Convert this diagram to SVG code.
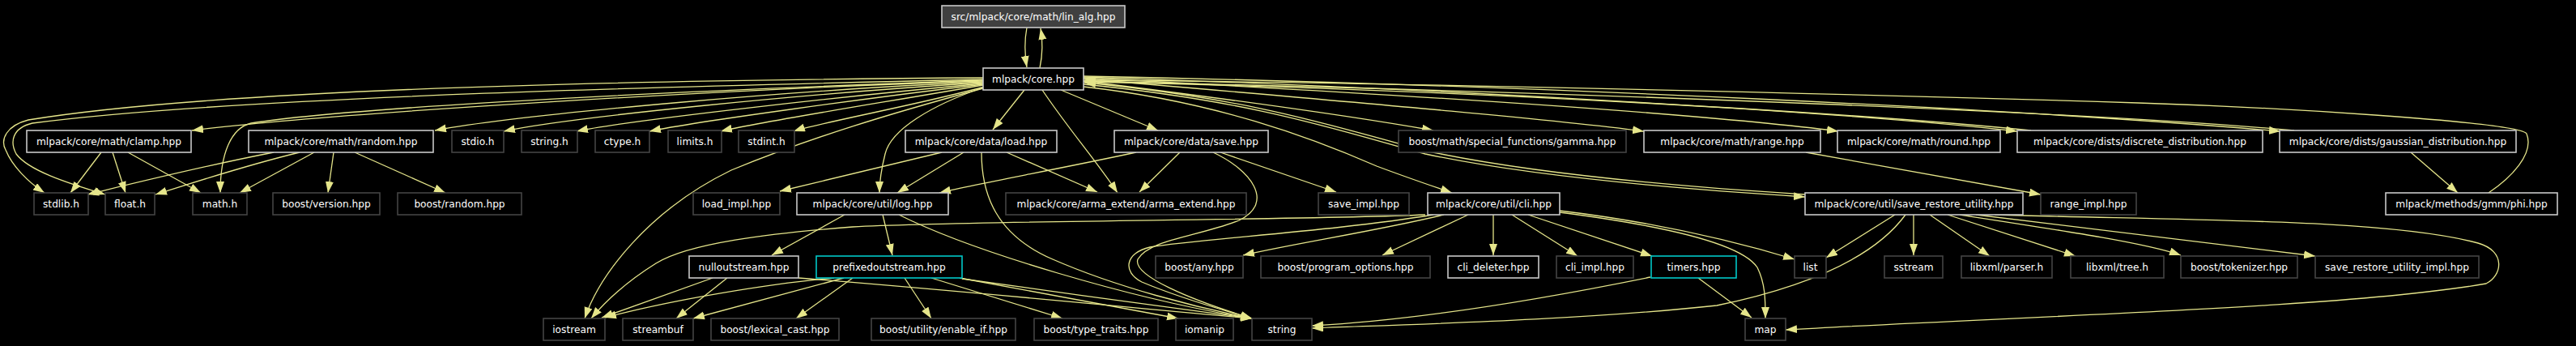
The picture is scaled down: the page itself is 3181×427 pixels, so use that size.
<svg xmlns="http://www.w3.org/2000/svg" width="3181" height="427" viewBox="0 0 3181 427">
<style>
rect{fill:#000;stroke-width:1.6}
.doc{stroke:#c8c8c8}
.ext{stroke:#444}
.cy{stroke:#00c8c8}
.root{fill:#404040;stroke:#c8c8c8}
text{fill:#fff;font-family:"DejaVu Sans",sans-serif;font-size:12.2px;text-anchor:middle}
#edges path{fill:none;stroke:#e5e58a;stroke-width:1.3;marker-end:url(#a)}
</style>
<defs>
<marker id="a" markerUnits="userSpaceOnUse" markerWidth="15" markerHeight="11" refX="14" refY="5" orient="auto"><path d="M0,0L14,5L0,10z" fill="#e5e58a"/></marker>
</defs>
<rect x="0" y="0" width="3181" height="427" style="fill:#000;stroke:none"/>
<g id="edges">
<path d="M1268,34 C1265,50 1265,65 1268,83"/>
<path d="M1284,84 C1288,65 1288,52 1285,35"/>
<path d="M1214,100 C900,110 400,140 237,161"/>
<path d="M1214,101 C1000,110 650,140 537,161"/>
<path d="M1214,102 C1000,115 700,145 622,162"/>
<path d="M1214,103 C1050,118 780,148 712,162"/>
<path d="M1214,104 C1080,120 860,150 802,162"/>
<path d="M1214,105 C1100,125 940,150 890,162"/>
<path d="M1216,107 C1130,130 1010,152 980,162"/>
<path d="M1214,96 C900,98 300,105 35,148 C8,155 0,172 7,185 C15,205 35,225 55,238"/>
<path d="M1214,98 C900,105 300,118 40,152 C15,158 12,175 20,190 C35,210 80,225 130,240"/>
<path d="M1214,99 C900,110 450,130 310,152 C285,158 272,190 272,238"/>
<path d="M1265,111 L1226,160"/>
<path d="M1310,111 L1430,161"/>
<path d="M1338,100 C1500,120 1650,140 1770,161"/>
<path d="M1338,97 C1600,120 1900,145 2030,162"/>
<path d="M1338,96 C1700,115 2100,140 2270,162"/>
<path d="M1338,95 C1800,110 2300,140 2491,162"/>
<path d="M1338,94 C1900,105 2500,135 2816,162"/>
<path d="M3073,238 C3100,220 3130,190 3120,165 C3110,150 2800,132 2640,127 C2200,113 1600,100 1339,99"/>
<path d="M2833,161 C2600,140 2000,115 1339,100"/>
<path d="M2508,161 C2300,140 1800,110 1339,101"/>
<path d="M1338,107 C1500,125 1620,170 1700,205 C1740,220 1770,230 1793,238"/>
<path d="M1338,104 C1550,125 1650,160 1760,190 C1900,220 2100,235 2229,243"/>
<path d="M2229,240 C2100,232 1900,216 1760,186 C1650,157 1550,122 1339,102"/>
<path d="M1214,108 C1150,130 1100,160 1093,190 C1088,210 1086,225 1086,238"/>
<path d="M1214,109 C1100,140 1000,170 903,210 C800,260 740,340 722,393"/>
<path d="M1287,111 C1320,160 1355,200 1380,238"/>
<path d="M125,188 L87,238"/>
<path d="M139,188 L155,238"/>
<path d="M158,188 L248,238"/>
<path d="M338,188 C250,205 170,225 108,240"/>
<path d="M370,188 C300,205 240,225 192,240"/>
<path d="M388,188 L296,238"/>
<path d="M412,188 L405,238"/>
<path d="M438,188 L550,238"/>
<path d="M1163,188 L963,236"/>
<path d="M1190,188 L1108,238"/>
<path d="M1212,188 C1212,240 1230,290 1300,320 C1380,355 1480,380 1546,393"/>
<path d="M1243,188 L1355,237"/>
<path d="M1403,188 C1300,210 1200,228 1160,238"/>
<path d="M1457,188 L1407,237"/>
<path d="M1498,188 C1545,210 1575,250 1530,272 C1480,292 1420,295 1405,320 C1398,340 1470,370 1546,393"/>
<path d="M1507,188 L1650,237"/>
<path d="M1043,265 L953,315"/>
<path d="M1090,265 L1102,315"/>
<path d="M1110,265 C1200,310 1400,370 1546,393"/>
<path d="M880,343 L743,392"/>
<path d="M898,343 L835,393"/>
<path d="M986,343 C1200,360 1400,380 1546,393"/>
<path d="M1030,343 C950,350 830,370 747,392"/>
<path d="M1042,343 L856,393"/>
<path d="M1053,343 L983,393"/>
<path d="M1117,343 L1150,393"/>
<path d="M1150,343 L1312,393"/>
<path d="M1185,343 L1455,393"/>
<path d="M1188,344 C1300,360 1450,380 1546,393"/>
<path d="M1760,265 C1600,272 1200,272 1053,280 C950,288 850,300 810,325 C770,350 745,375 730,393"/>
<path d="M1783,265 C1700,285 1600,300 1535,315"/>
<path d="M1770,265 C1650,285 1480,295 1420,305 C1390,312 1385,335 1410,348 C1450,365 1500,380 1546,393"/>
<path d="M1813,265 L1707,315"/>
<path d="M1844,265 L1844,315"/>
<path d="M1867,265 L1948,316"/>
<path d="M1887,265 L2040,316"/>
<path d="M1926,260 C2050,275 2150,300 2216,320"/>
<path d="M1926,262 C2050,278 2150,300 2170,330 C2180,350 2180,370 2180,393"/>
<path d="M2038,342 C1900,370 1750,395 1620,402"/>
<path d="M2097,343 L2163,392"/>
<path d="M2340,265 L2255,318"/>
<path d="M2353,265 C2320,310 2250,350 2120,377 C1950,395 1750,400 1620,405"/>
<path d="M2363,265 L2363,315"/>
<path d="M2383,265 L2457,316"/>
<path d="M2405,265 L2563,316"/>
<path d="M2420,265 C2550,285 2650,300 2693,315"/>
<path d="M2440,265 L2859,316"/>
<path d="M2463,265 C2700,272 2950,270 3060,300 C3095,310 3090,340 3070,350 C2900,380 2500,390 2205,407"/>
<path d="M2230,188 L2520,240"/>
<path d="M2977,188 L3035,238"/>
</g>
<g id="n_lin_alg"><rect class="root" x="1163" y="7" width="226" height="27"/><text x="1276" y="25">src/mlpack/core/math/lin_alg.hpp</text></g>
<g id="n_core"><rect class="doc" x="1214" y="84" width="124" height="27"/><text x="1276" y="102">mlpack/core.hpp</text></g>
<g id="n_clamp"><rect class="doc" x="33" y="161" width="203" height="27"/><text x="134.5" y="179">mlpack/core/math/clamp.hpp</text></g>
<g id="n_random"><rect class="doc" x="307" y="161" width="228" height="27"/><text x="421" y="179">mlpack/core/math/random.hpp</text></g>
<g id="n_stdio"><rect class="ext" x="558" y="161" width="64" height="27"/><text x="590" y="179">stdio.h</text></g>
<g id="n_string_h"><rect class="ext" x="644" y="161" width="69" height="27"/><text x="678.5" y="179">string.h</text></g>
<g id="n_ctype"><rect class="ext" x="735" y="161" width="67" height="27"/><text x="768.5" y="179">ctype.h</text></g>
<g id="n_limits"><rect class="ext" x="825" y="161" width="66" height="27"/><text x="858" y="179">limits.h</text></g>
<g id="n_stdint"><rect class="ext" x="912" y="161" width="69" height="27"/><text x="946.5" y="179">stdint.h</text></g>
<g id="n_load"><rect class="doc" x="1118" y="161" width="187" height="27"/><text x="1211.5" y="179">mlpack/core/data/load.hpp</text></g>
<g id="n_save"><rect class="doc" x="1376" y="161" width="190" height="27"/><text x="1471" y="179">mlpack/core/data/save.hpp</text></g>
<g id="n_gamma"><rect class="ext" x="1727" y="161" width="281" height="27"/><text x="1867.5" y="179">boost/math/special_functions/gamma.hpp</text></g>
<g id="n_range"><rect class="doc" x="2030" y="161" width="218" height="27"/><text x="2139" y="179">mlpack/core/math/range.hpp</text></g>
<g id="n_round"><rect class="doc" x="2269" y="161" width="201" height="27"/><text x="2369.5" y="179">mlpack/core/math/round.hpp</text></g>
<g id="n_discrete"><rect class="doc" x="2491" y="161" width="303" height="27"/><text x="2642.5" y="179">mlpack/core/dists/discrete_distribution.hpp</text></g>
<g id="n_gaussian"><rect class="doc" x="2815" y="161" width="292" height="27"/><text x="2961" y="179">mlpack/core/dists/gaussian_distribution.hpp</text></g>
<g id="n_stdlib"><rect class="ext" x="42" y="238" width="67" height="27"/><text x="75.5" y="256">stdlib.h</text></g>
<g id="n_float"><rect class="ext" x="130" y="238" width="61" height="27"/><text x="160.5" y="256">float.h</text></g>
<g id="n_math"><rect class="ext" x="238" y="238" width="67" height="27"/><text x="271.5" y="256">math.h</text></g>
<g id="n_bversion"><rect class="ext" x="337" y="238" width="132" height="27"/><text x="403" y="256">boost/version.hpp</text></g>
<g id="n_brandom"><rect class="ext" x="491" y="238" width="153" height="27"/><text x="567.5" y="256">boost/random.hpp</text></g>
<g id="n_load_impl"><rect class="ext" x="856" y="238" width="107" height="27"/><text x="909.5" y="256">load_impl.hpp</text></g>
<g id="n_log"><rect class="doc" x="984" y="238" width="187" height="27"/><text x="1077.5" y="256">mlpack/core/util/log.hpp</text></g>
<g id="n_arma"><rect class="ext" x="1242" y="238" width="297" height="27"/><text x="1390.5" y="256">mlpack/core/arma_extend/arma_extend.hpp</text></g>
<g id="n_save_impl"><rect class="ext" x="1628" y="238" width="112" height="27"/><text x="1684" y="256">save_impl.hpp</text></g>
<g id="n_cli"><rect class="doc" x="1763" y="238" width="163" height="27"/><text x="1844.5" y="256">mlpack/core/util/cli.hpp</text></g>
<g id="n_sru"><rect class="doc" x="2229" y="238" width="269" height="27"/><text x="2363.5" y="256">mlpack/core/util/save_restore_utility.hpp</text></g>
<g id="n_range_impl"><rect class="ext" x="2520" y="238" width="118" height="27"/><text x="2579" y="256">range_impl.hpp</text></g>
<g id="n_phi"><rect class="doc" x="2946" y="238" width="212" height="27"/><text x="3052" y="256">mlpack/methods/gmm/phi.hpp</text></g>
<g id="n_nullout"><rect class="doc" x="851" y="316" width="135" height="27"/><text x="918.5" y="334">nulloutstream.hpp</text></g>
<g id="n_prefixed"><rect class="cy" x="1008" y="316" width="180" height="27"/><text x="1098" y="334">prefixedoutstream.hpp</text></g>
<g id="n_any"><rect class="ext" x="1427" y="316" width="108" height="27"/><text x="1481" y="334">boost/any.hpp</text></g>
<g id="n_progopt"><rect class="ext" x="1557" y="316" width="209" height="27"/><text x="1661.5" y="334">boost/program_options.hpp</text></g>
<g id="n_cli_deleter"><rect class="doc" x="1788" y="316" width="112" height="27"/><text x="1844" y="334">cli_deleter.hpp</text></g>
<g id="n_cli_impl"><rect class="ext" x="1922" y="316" width="95" height="27"/><text x="1969.5" y="334">cli_impl.hpp</text></g>
<g id="n_timers"><rect class="cy" x="2039" y="316" width="105" height="27"/><text x="2091.5" y="334">timers.hpp</text></g>
<g id="n_list"><rect class="ext" x="2216" y="316" width="39" height="27"/><text x="2235.5" y="334">list</text></g>
<g id="n_sstream"><rect class="ext" x="2327" y="316" width="72" height="27"/><text x="2363" y="334">sstream</text></g>
<g id="n_parser"><rect class="ext" x="2422" y="316" width="112" height="27"/><text x="2478" y="334">libxml/parser.h</text></g>
<g id="n_tree"><rect class="ext" x="2557" y="316" width="115" height="27"/><text x="2614.5" y="334">libxml/tree.h</text></g>
<g id="n_tokenizer"><rect class="ext" x="2693" y="316" width="144" height="27"/><text x="2765" y="334">boost/tokenizer.hpp</text></g>
<g id="n_sru_impl"><rect class="ext" x="2859" y="316" width="202" height="27"/><text x="2960" y="334">save_restore_utility_impl.hpp</text></g>
<g id="n_iostream"><rect class="ext" x="671" y="393" width="76" height="27"/><text x="709" y="411">iostream</text></g>
<g id="n_streambuf"><rect class="ext" x="769" y="393" width="87" height="27"/><text x="812.5" y="411">streambuf</text></g>
<g id="n_lexical"><rect class="ext" x="878" y="393" width="158" height="27"/><text x="957" y="411">boost/lexical_cast.hpp</text></g>
<g id="n_enable_if"><rect class="ext" x="1076" y="393" width="178" height="27"/><text x="1165" y="411">boost/utility/enable_if.hpp</text></g>
<g id="n_type_traits"><rect class="ext" x="1277" y="393" width="153" height="27"/><text x="1353.5" y="411">boost/type_traits.hpp</text></g>
<g id="n_iomanip"><rect class="ext" x="1452" y="393" width="71" height="27"/><text x="1487.5" y="411">iomanip</text></g>
<g id="n_string"><rect class="ext" x="1546" y="393" width="74" height="27"/><text x="1583" y="411">string</text></g>
<g id="n_map"><rect class="ext" x="2155" y="393" width="50" height="27"/><text x="2180" y="411">map</text></g>
</svg>
